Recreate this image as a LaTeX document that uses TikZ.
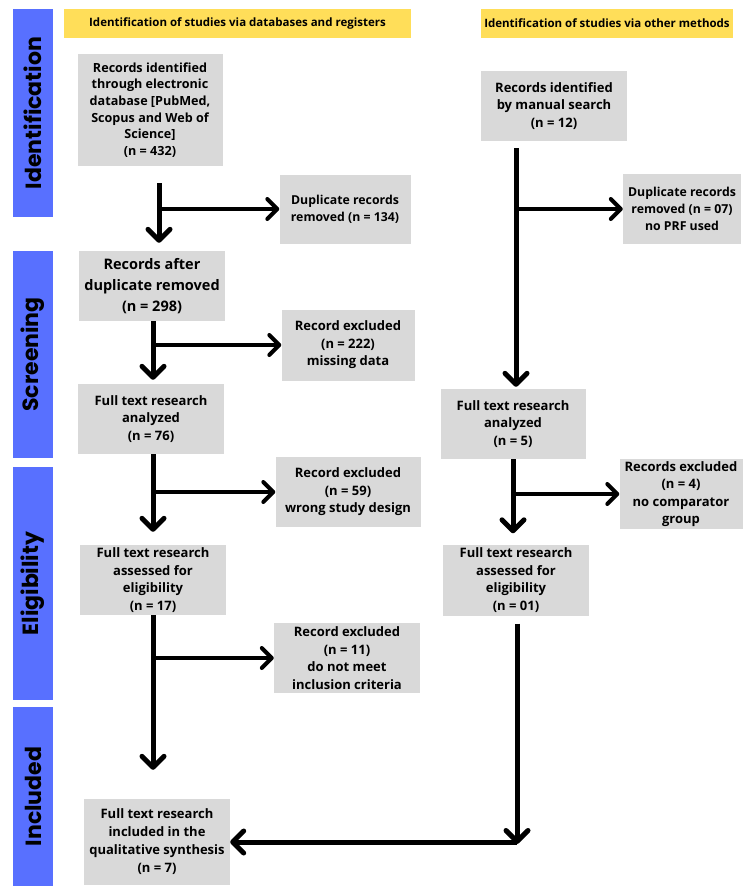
\documentclass[tikz,border=0pt]{standalone}
\usepackage{fontspec}
\setmainfont{Open Sans}
\newfontfamily\phasefont{Poppins}
\usetikzlibrary{arrows.meta}
\definecolor{phaseblue}{RGB}{88,112,255}
\definecolor{headyellow}{RGB}{255,222,89}
\definecolor{boxgray}{RGB}{217,217,217}
\begin{document}
\begin{tikzpicture}[x=1pt,y=-1pt,
 box/.style={rectangle,fill=boxgray,minimum width=146pt,minimum height=70pt,
             inner sep=2pt,align=center,font=\fontsize{13}{17.5}\selectfont\bfseries},
 head/.style={rectangle,fill=headyellow,minimum height=29pt,inner sep=0pt,
              font=\fontsize{11.5}{13}\selectfont\bfseries},
 phase/.style={rectangle,fill=phaseblue,rotate=90,minimum height=40pt,inner sep=0pt,
               font=\phasefont\fontsize{22}{24}\selectfont\bfseries},
 arrow/.style={-{Straight Barb[round,length=11pt,width=22pt]},line width=5pt},
 arrowh/.style={-{Straight Barb[round,length=10pt,width=20pt]},line width=4pt}]
\useasboundingbox (0,0) rectangle (750,894);
% phases
\node[phase,minimum width=208pt] (pid) at (33,113) {Identification};
\node[phase,minimum width=207pt] (psc) at (33,354.5) {Screening};
\node[phase,minimum width=233pt] (pel) at (33,583.5) {Eligibility};
\node[phase,minimum width=179pt] (pin) at (33,796.5) {Included};
% headers
\node[head,minimum width=347pt] (hdb) at (237.5,23.5) {Identification of studies via databases and registers};
\node[head,minimum width=252pt] (hot) at (607,23.5) {Identification of studies via other methods};
% databases column
\node[box,minimum width=145pt,minimum height=112pt,font=\fontsize{12.6}{16.7}\selectfont\bfseries] (recdb) at (150,110) {Records identified\\through electronic\\database [PubMed,\\Scopus and Web of\\Science]\\(n = 432)};
\node[box,minimum width=131pt,minimum height=69pt,font=\fontsize{12.3}{17}\selectfont\bfseries] (dupdb) at (345,209) {Duplicate records\\removed (n = 134)};
\node[box,font=\fontsize{14.5}{21}\selectfont\bfseries] (afterdb) at (152,286) {Records after\\duplicate removed\\(n = 298)};
\node[box,minimum width=133pt,minimum height=71pt] (exmiss) at (348,345) {Record excluded\\(n = 222)\\missing data};
\node[box] (anadb) at (151,419) {Full text research\\analyzed\\(n = 76)};
\node[box,minimum width=145pt] (exdesign) at (348,492) {Record excluded\\(n = 59)\\wrong study design};
\node[box] (elidb) at (153,580) {Full text research\\assessed for\\eligibility\\(n = 17)};
\node[box] (excrit) at (347,658) {Record excluded\\(n = 11)\\do not meet\\inclusion criteria};
\node[box,minimum height=86pt,font=\fontsize{13}{18}\selectfont\bfseries] (incl) at (157,842) {Full text research\\included in the\\qualitative synthesis\\(n = 7)};
% other methods column
\node[box] (recot) at (554,106) {Records identified\\by manual search\\(n = 12)};
\node[box,minimum width=118pt,font=\fontsize{12.3}{17}\selectfont\bfseries] (dupot) at (682,209) {Duplicate records\\removed (n = 07)\\no PRF used};
\node[box,minimum width=145pt] (anaot) at (513,424) {Full text research\\analyzed\\(n = 5)};
\node[box,minimum width=123pt] (excomp) at (681,494) {Records excluded\\(n = 4)\\no comparator\\group};
\node[box,minimum height=71pt] (eliot) at (516,580) {Full text research\\assessed for\\eligibility\\(n = 01)};
% stems
\coordinate (s1) at ([xshift=9pt]recdb.south);
\coordinate (s2) at ([xshift=1pt]afterdb.south);
\coordinate (s3) at ([xshift=2pt]anadb.south);
\coordinate (s4) at (elidb.south);
\coordinate (t1) at ([xshift=-38pt]recot.south);
\coordinate (t2) at (anaot.south);
\coordinate (t3) at ([xshift=1pt]eliot.south);
\coordinate (turn) at (t3 |- incl.east);
% arrows
\draw[arrow,shorten <=17pt,shorten >=8pt] (s1) -- (s1 |- afterdb.north);
\draw[arrowh] (s1 |- dupdb.west) -- (dupdb.west);
\draw[arrow,shorten >=4pt] (s2) -- (s2 |- anadb.north);
\draw[arrowh] (s2 |- exmiss.west) -- (exmiss.west);
\draw[arrow,shorten >=13pt] (s3) -- (s3 |- elidb.north);
\draw[arrowh] (s3 |- exdesign.west) -- (exdesign.west);
\draw[arrow,shorten >=29pt] (s4) -- (s4 |- incl.north);
\draw[arrowh] (s4 |- excrit.west) -- (excrit.west);
\draw[arrow,shorten <=7pt,shorten >=2pt] (t1) -- (t1 |- anaot.north);
\draw[arrowh] (t1 |- dupot.west) -- (dupot.west);
\draw[arrow,shorten >=11pt] (t2) -- (t2 |- eliot.north);
\draw[arrowh] (t2 |- excomp.west) -- (excomp.west);
\draw[arrow,shorten <=8pt,shorten >=-2pt] (t3) -- (turn);
\draw[arrow] (turn) -- (incl.east);
\end{tikzpicture}
\end{document}
